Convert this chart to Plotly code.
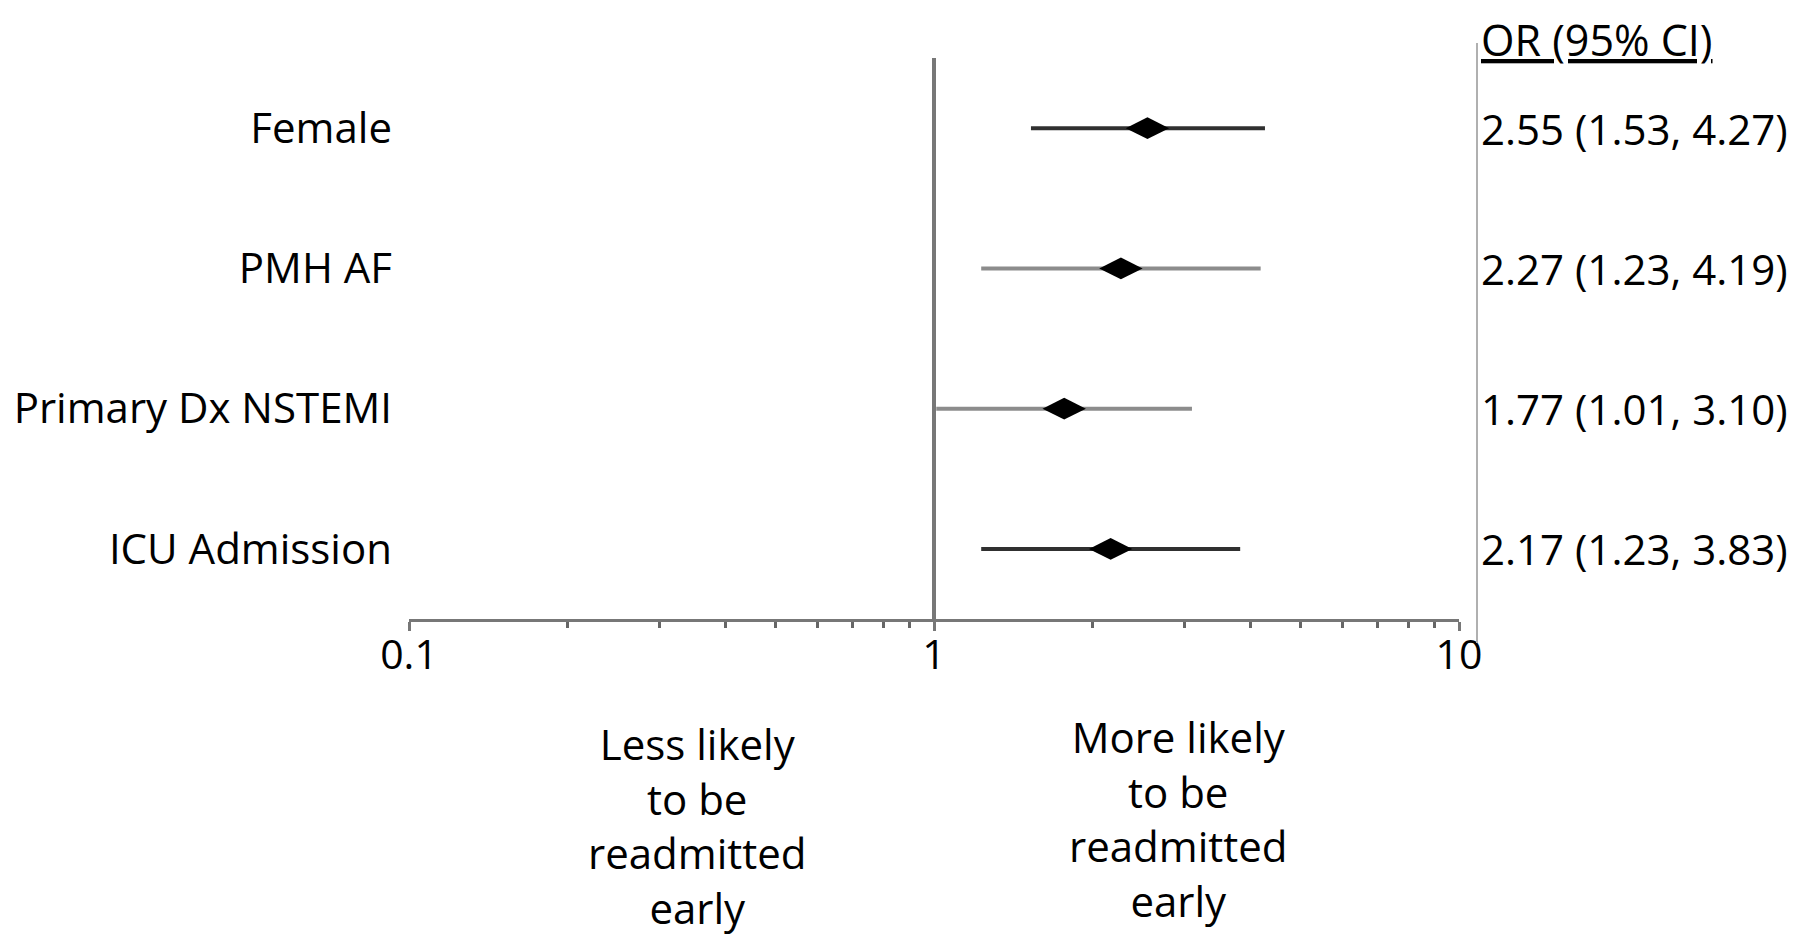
import plotly.graph_objects as go

# ---- data ----
labels = ["Female", "PMH AF", "Primary Dx NSTEMI", "ICU Admission"]
odds_ratio = [2.55, 2.27, 1.77, 2.17]
ci_low = [1.53, 1.23, 1.01, 1.23]
ci_high = [4.27, 4.19, 3.10, 3.83]
row_pos = [4, 3, 2, 1]
line_colors = ["#303030", "#8c8c8c", "#8c8c8c", "#303030"]
major_ticks = [0.1, 1, 10]
major_text = ["0.1", "1", "10"]
minor_ticks = [0.2, 0.3, 0.4, 0.5, 0.6, 0.7, 0.8, 0.9, 2, 3, 4, 5, 6, 7, 8, 9]
header = "OR (95% CI)"
left_note = ["Less likely", "to be", "readmitted", "early"]
right_note = ["More likely", "to be", "readmitted", "early"]

# the page body has an 8 px margin; lay out in window pixels minus that offset
OFF = 8
W, H = 1800 - OFF, 943 - OFF
FONT = "Open Sans"


def px(xw):
    return (xw - OFF) / W


def py(yw):
    return 1 - (yw - OFF) / H


fig = go.Figure()

for lab, o, lo, hi, y, c in zip(labels, odds_ratio, ci_low, ci_high, row_pos, line_colors):
    fig.add_trace(go.Scatter(
        x=[lo, hi], y=[y, y], mode="lines",
        line=dict(color=c, width=4), hoverinfo="skip", showlegend=False))
    fig.add_trace(go.Scatter(
        x=[o], y=[y], mode="markers",
        marker=dict(symbol="diamond-wide", size=31, color="black"),
        showlegend=False, name=lab))
    fig.add_annotation(
        x=px(1479), xref="paper", xanchor="left",
        y=y, yref="y", yanchor="middle",
        text=f"{o:.2f} ({lo:.2f}, {hi:.2f})",
        showarrow=False, font=dict(family=FONT, size=42, color="black"))

# reference line at OR = 1
fig.add_shape(type="line", xref="x", yref="y", x0=1, x1=1, y0=0.5, y1=4.5,
              line=dict(color="#777777", width=4), layer="below")
# right separator line
fig.add_shape(type="line", xref="paper", yref="paper",
              x0=px(1477), x1=px(1477), y0=py(643), y1=py(43),
              line=dict(color="#b0b0b0", width=2))

fig.add_annotation(x=px(1479), xref="paper", xanchor="left",
                   y=1, yref="paper", yanchor="top",
                   text=f"<u>{header}</u>", showarrow=False,
                   font=dict(family=FONT, size=43, color="black"))

fig.add_annotation(x=px(697), xref="paper", xanchor="center",
                   y=py(713), yref="paper", yanchor="top",
                   text="<br>".join(left_note), showarrow=False, align="center",
                   font=dict(family=FONT, size=42, color="black"))
fig.add_annotation(x=px(1178), xref="paper", xanchor="center",
                   y=py(706), yref="paper", yanchor="top",
                   text="<br>".join(right_note), showarrow=False, align="center",
                   font=dict(family=FONT, size=42, color="black"))

fig.update_layout(
    width=W, height=H,
    margin=dict(l=0, r=0, t=0, b=0),
    paper_bgcolor="white", plot_bgcolor="white",
    xaxis=dict(
        type="log", range=[-1, 1],
        domain=[px(409), px(1459)],
        automargin=False,
        showgrid=False, zeroline=False,
        showline=True, linecolor="#777777", linewidth=3,
        tickvals=major_ticks, ticktext=major_text,
        ticks="outside", ticklen=9, tickwidth=3, tickcolor="#777777",
        ticklabelstandoff=-11,
        tickfont=dict(family=FONT, size=41, color="black"),
        minor=dict(tickvals=minor_ticks, ticks="outside", ticklen=6,
                   tickwidth=3, tickcolor="#666666"),
        fixedrange=True,
    ),
    yaxis=dict(
        range=[0.5, 4.5],
        domain=[py(619), py(58)],
        automargin=False,
        showgrid=False, zeroline=False, showline=False,
        tickvals=row_pos, ticktext=labels, ticks="",
        ticklabelstandoff=16,
        tickfont=dict(family=FONT, size=42, color="black"),
        fixedrange=True,
    ),
)

fig.write_html("out.html")
